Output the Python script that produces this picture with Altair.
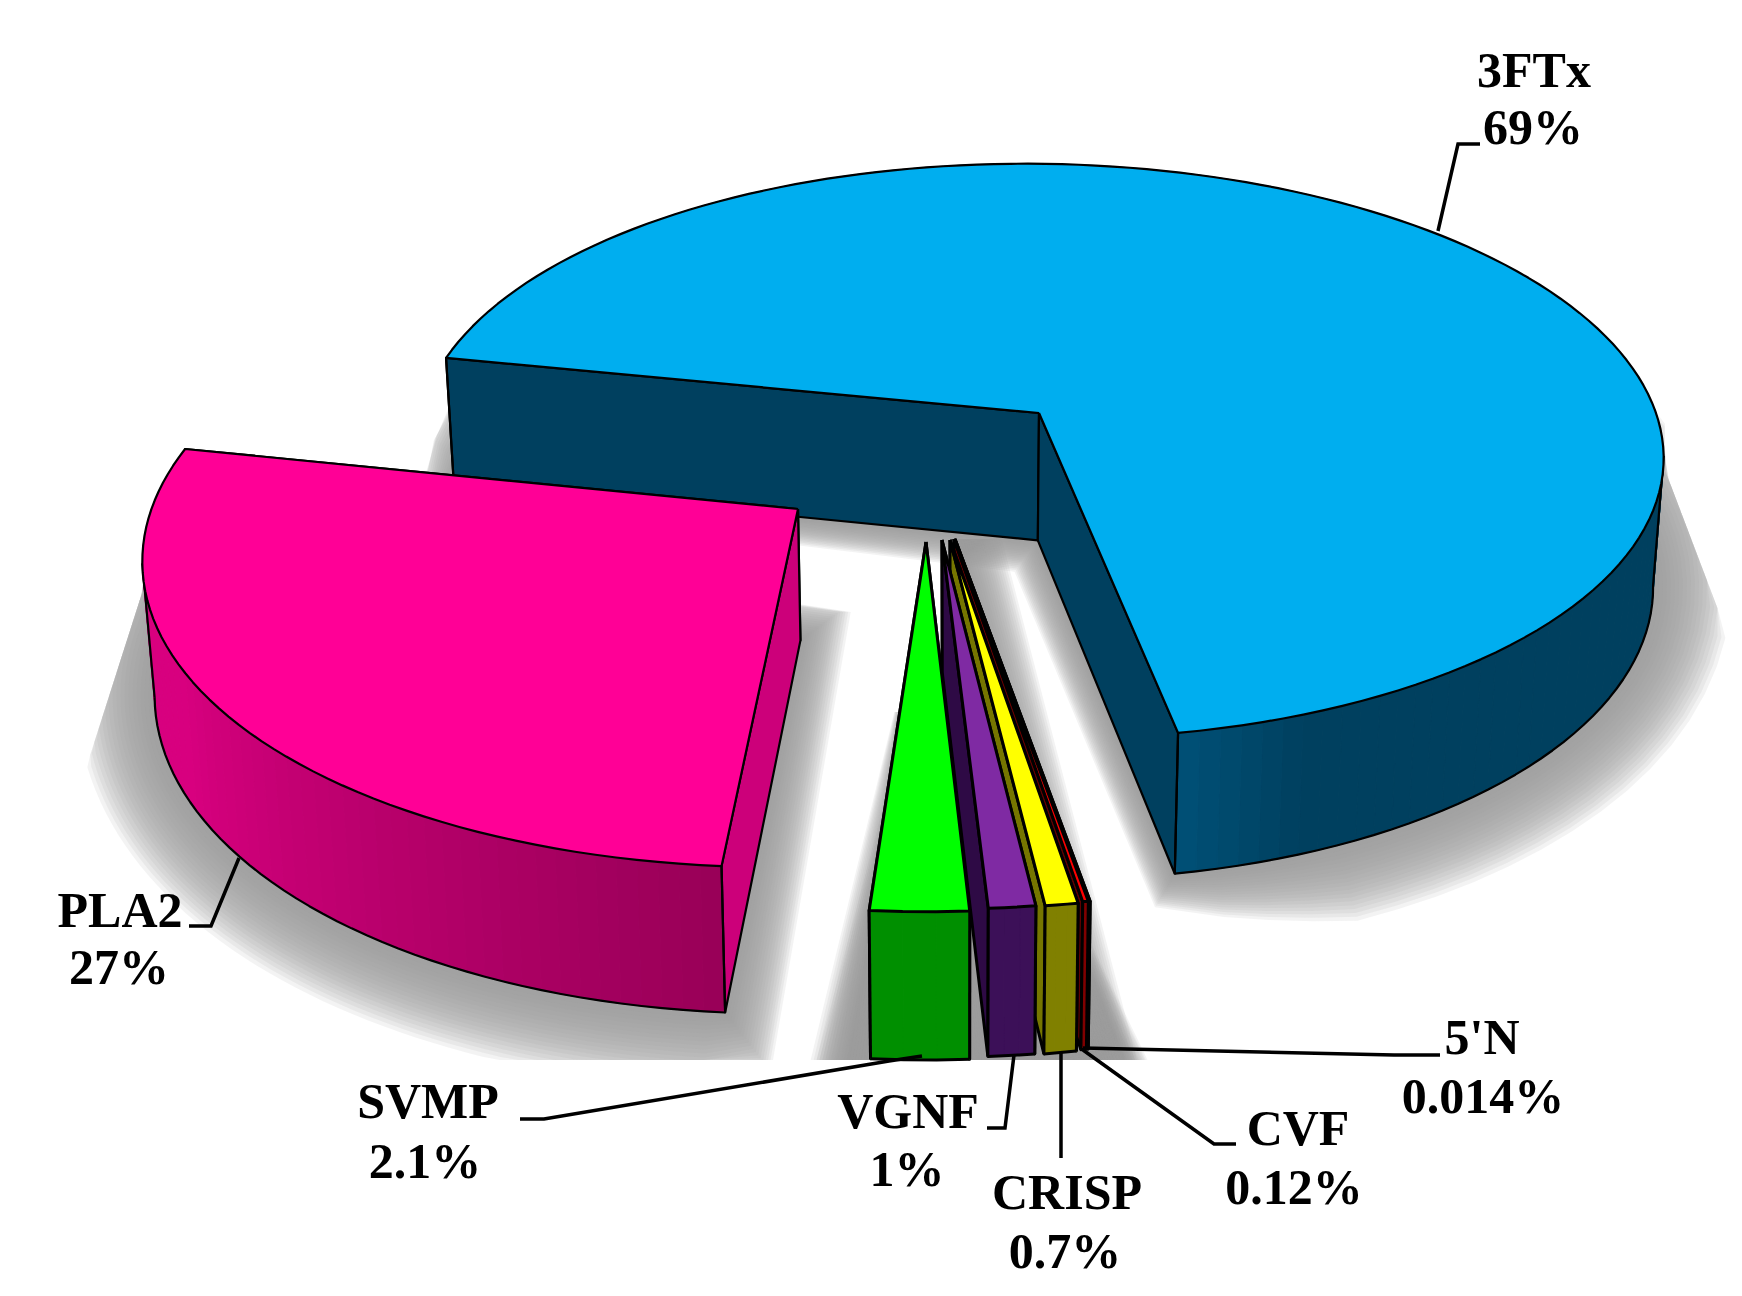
import numpy as np
import pandas as pd
import altair as alt

# ---- chart values (clockwise from the left edge of 3FTx) ----
categories = ["3FTx", "5'N", "CVF", "CRISP", "VGNF", "SVMP", "PLA2"]
percents = [69, 0.014, 0.12, 0.7, 1, 2.1, 27]
percent_labels = ["69%", "0.014%", "0.12%", "0.7%", "1%", "2.1%", "27%"]
top_colors = ["#00AEEF", "#1a0000", "#FF0000", "#FFFF00", "#7F2AA3", "#00FF00", "#FF0096"]
wall_start = ["#00405F", "#400000", "#800000", "#808000", "#3C1058", "#008F00", "#990058"]
wall_end = ["#00405F", "#400000", "#800000", "#808000", "#3C1058", "#008F00", "#D8007F"]
radial_colors = ["#00405F", "#300000", "#600000", "#767600", "#2E0A45", "#008F00", "#CC007A"]

# wedge tips
tip_x = [1039, 955, 954, 950, 942, 926, 798]
tip_y = [413, 539, 539, 540, 540, 542, 509]

# label texts: centre x, baseline
label_x = [1534, 1482, 1298, 1067, 908, 428, 120]
label_y = [87, 1054, 1145, 1209, 1128, 1118, 927]
value_x = [1533, 1483, 1294, 1065, 907, 425, 119]
value_y = [144, 1113, 1204, 1268, 1186, 1178, 984]

# leader lines
leaders = [
    [(1438, 231), (1458, 144), (1480, 144)],
    [(1440, 1055), (1394, 1055), (1083, 1048)],
    [(1236, 1144), (1214, 1144), (1083, 1050)],
    [(1061, 1158), (1061, 1053)],
    [(987, 1128), (1005, 1128), (1014, 1055)],
    [(520, 1119), (544, 1119), (889, 1061), (922, 1056)],
    [(239, 858), (211, 926), (189, 926)],
]

# ---- view of the tilted pie ----
total = sum(percents)
sweep = [p / total * 2 * np.pi for p in percents]
starts = np.concatenate([[0], np.cumsum(sweep)[:-1]])

a = sweep[0]
src = [0.0, a - np.pi, np.pi, a]
dst = [(446, 358), (932, 167), (1663, 471), (1178, 733)]
A, b = [], []
for t, (X, Y) in zip(src, dst):
    u, v = np.cos(t), np.sin(t)
    A.append([u, v, 1, 0, 0, 0, -u * X, -v * X]); b.append(X)
    A.append([0, 0, 0, u, v, 1, -u * Y, -v * Y]); b.append(Y)
H = np.append(np.linalg.solve(np.array(A, float), np.array(b, float)), 1).reshape(3, 3)
Hi = np.linalg.inv(H)


def proj(u, v):
    p = H @ np.array([u, v, np.ones_like(u)])
    return p[0] / p[2], p[1] / p[2]


def lower(x, y):
    return x - (x - 960) * 0.015, y + 110 + 0.042 * y


def mix(c1, c2, t):
    p = [int(c1[i:i + 2], 16) for i in (1, 3, 5)]
    q = [int(c2[i:i + 2], 16) for i in (1, 3, 5)]
    return "#%02x%02x%02x" % tuple(int(round(m + (n - m) * t)) for m, n in zip(p, q))


rows = []
pid = [0]


def add(xs, ys, fill, stroke, sw, op=1.0):
    pid[0] += 1
    for i, (x, y) in enumerate(zip(xs, ys)):
        rows.append(dict(x=round(float(x), 2), y=round(float(y), 2), i=i, poly=pid[0], fill=fill, stroke=stroke, sw=sw, op=op))


def offset(xs, ys, d):
    n = len(xs)
    out_x, out_y = [], []
    area = sum(xs[i] * ys[(i + 1) % n] - xs[(i + 1) % n] * ys[i] for i in range(n))
    sgn = 1 if area > 0 else -1
    for i in range(n):
        ax, ay = xs[i] - xs[i - 1], ys[i] - ys[i - 1]
        bx, by = xs[(i + 1) % n] - xs[i], ys[(i + 1) % n] - ys[i]
        la, lb = np.hypot(ax, ay) + 1e-9, np.hypot(bx, by) + 1e-9
        nx = ay / la + by / lb
        ny = -ax / la - bx / lb
        ln = np.hypot(nx, ny) + 1e-9
        out_x.append(xs[i] + sgn * d[i] * nx / ln)
        out_y.append(ys[i] + sgn * d[i] * ny / ln)
    return np.array(out_x), np.array(out_y)


centres = []
for k in range(len(categories)):
    p = Hi @ np.array([tip_x[k], tip_y[k], 1.0])
    centres.append((p[0] / p[2], p[1] / p[2]))


def rim(k, n):
    th = np.linspace(starts[k], starts[k] + sweep[k], n)
    return proj(centres[k][0] + np.cos(th), centres[k][1] + np.sin(th))


# soft shadow on the ground
for d in np.arange(78, 3, -4):
    for k in range(len(categories)):
        n = 70 if sweep[k] > 1 else 8
        rx, ry = rim(k, n)
        bx, by = lower(np.append(rx, tip_x[k]), np.append(ry, tip_y[k]))
        if k == 0:
            ramp = np.minimum(1, 0.5 + np.minimum(np.arange(n), np.arange(n)[::-1]) / 8)
            mult = np.append(ramp, 0.5)
        elif k == 6:
            mult = np.append(np.full(n, 1.0), 0.8)
        else:
            mult = np.append(np.full(n, 0.9), 0.45)
        ox, oy = offset(bx, by, float(d) * mult)
        oy = np.minimum(oy, 1060)
        ox = np.minimum(ox, 1665 + (np.maximum(oy, 470) - 470) * 0.38)
        ox = np.maximum(ox, 143 - (np.maximum(oy, 590) - 590) * 0.32)
        if k == 0:
            ox = np.maximum(ox, 448 - np.maximum(oy - 420, 0) * 0.7)
        if k == 6:
            oy = np.where(ox > 795, np.maximum(oy, 612), oy)
        add(np.append(ox, ox[0]), np.append(oy, oy[0]), "#9c9e9c", "transparent", 0, 0.12)
        if k == 1:
            # the shadow alongside the thin slices' right edge
            dx = float(d) * 0.6
            qx = [tip_x[k], rx[0], rx[0] + dx, tip_x[k] + dx, tip_x[k]]
            qy = [tip_y[k], 1060, 1060, tip_y[k], tip_y[k]]
            add(qx, qy, "#9c9e9c", "transparent", 0, 0.12)
        if k == 5:
            # and along the left edge of the green one, low down
            dx = float(d) * 0.75
            qx = [tip_x[k] - 20, rx[-1], rx[-1] - dx, tip_x[k] - 20 - dx * 0.2, tip_x[k] - 20]
            qy = [tip_y[k] + 170, 1060, 1060, tip_y[k] + 170, tip_y[k] + 170]
            add(qx, qy, "#9c9e9c", "transparent", 0, 0.12)


def radial_walls(k, n, rx, ry, bx, by, sw):
    tx, ty = float(tip_x[k]), float(tip_y[k])
    lx, ly = lower(tx, ty)
    order = [n - 1, 0] if k == 6 else [0, n - 1]
    for j in order:
        add([tx, rx[j], bx[j], lx, tx], [ty, ry[j], by[j], ly, ty], radial_colors[k], "black", sw)


# the slices, back to front
for k in range(len(categories)):
    big = k in (0, 6)
    sw = 2.2 if big else 3.0
    n = 140 if k == 0 else (60 if big else 4)
    rx, ry = rim(k, n)
    bx, by = lower(rx, ry)
    tx, ty = float(tip_x[k]), float(tip_y[k])
    if not big:
        radial_walls(k, n, rx, ry, bx, by, sw)
    for j in range(n - 1):
        t = j / (n - 2) if n > 2 else 0
        if k == 0:
            c = mix("#00405F", "#004F75", max(0, (t - 0.96) / 0.04))
        elif k == 6:
            c = mix(wall_start[k], wall_end[k], min(1, t * 1.7))
        else:
            c = wall_start[k]
        add([rx[j], rx[j + 1], bx[j + 1], bx[j], rx[j]], [ry[j], ry[j + 1], by[j + 1], by[j], ry[j]], c, c, 1)
    if k == 0:
        j0 = int(np.argmax(bx))
        add(bx[j0:], by[j0:], "transparent", "black", sw)
        jt = int(np.argmax(rx))
        add([rx[jt], bx[j0]], [ry[jt], by[j0]], "transparent", "black", sw)
    elif k == 6:
        j0 = int(np.argmin(bx))
        add(bx[:j0 + 1], by[:j0 + 1], "transparent", "black", sw)
        jt = int(np.argmin(rx))
        add([rx[jt], bx[j0]], [ry[jt], by[j0]], "transparent", "black", sw)
    else:
        add(bx, by, "transparent", "black", sw)
    if big:
        radial_walls(k, n, rx, ry, bx, by, sw)
    for j in [0, n - 1]:
        add([rx[j], bx[j]], [ry[j], by[j]], "transparent", "black", sw)
    add(np.concatenate([[tx], rx, [tx]]), np.concatenate([[ty], ry, [ty]]), top_colors[k], "black", sw)

df = pd.DataFrame(rows)

X = alt.X("x:Q", axis=None, scale=alt.Scale(domain=[8, 1734]))
Y = alt.Y("y:Q", axis=None, scale=alt.Scale(domain=[1282, 8]))

pie = alt.Chart(df).mark_line(strokeJoin="round").encode(
    x=X, y=Y, order="i:Q", detail="poly:N",
    fill=alt.Fill("fill:N", scale=None),
    stroke=alt.Stroke("stroke:N", scale=None),
    strokeWidth=alt.StrokeWidth("sw:Q", scale=None),
    opacity=alt.Opacity("op:Q", scale=None),
)

lead_rows = []
for k, pts in enumerate(leaders):
    for i, (x, y) in enumerate(pts):
        lead_rows.append(dict(x=x, y=y, i=i, who=categories[k]))
lead = alt.Chart(pd.DataFrame(lead_rows)).mark_line(color="black", strokeWidth=3.5).encode(
    x=X, y=Y, order="i:Q", detail="who:N"
)

text_df = pd.DataFrame(
    [dict(x=a1, y=b1, t=c1) for a1, b1, c1 in zip(label_x, label_y, categories)]
    + [dict(x=a1, y=b1, t=c1) for a1, b1, c1 in zip(value_x, value_y, percent_labels)]
)
text = alt.Chart(text_df).mark_text(
    font="Liberation Serif", fontWeight="bold", fontSize=50, baseline="alphabetic", align="center", color="black"
).encode(x=X, y=Y, text="t:N")

chart = (pie + lead + text).properties(width=1726, height=1274, padding=0, background="white").configure_view(stroke=None)

chart.save("out.html", embed_options={"renderer": "svg", "actions": False})
